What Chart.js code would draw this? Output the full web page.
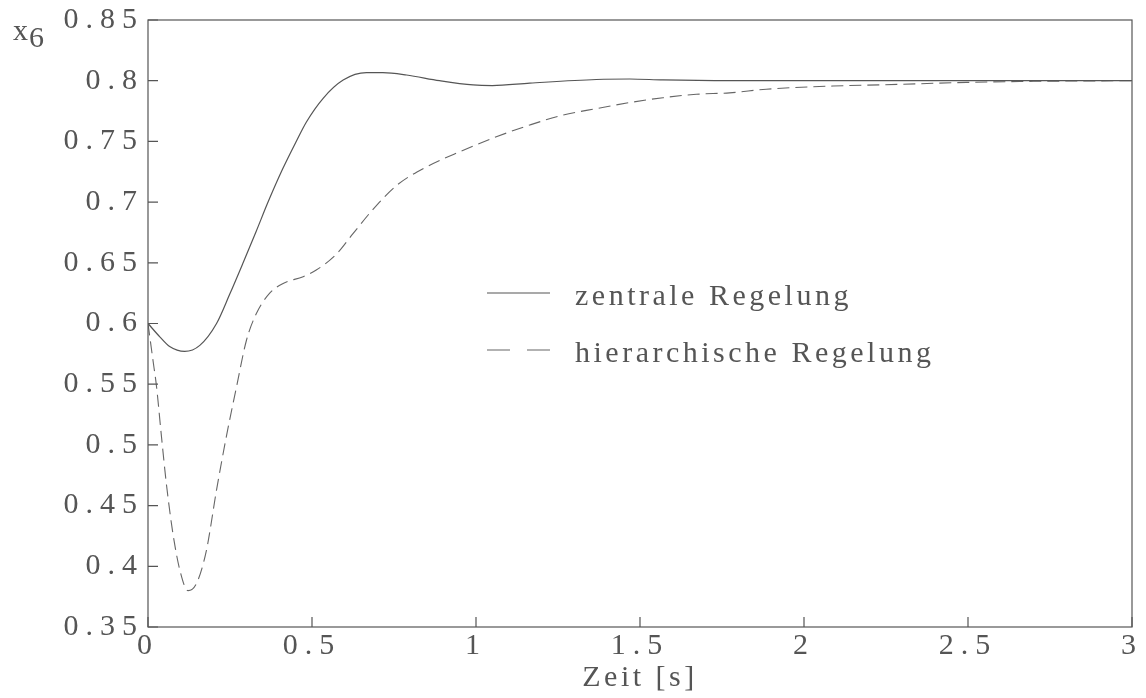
<!DOCTYPE html>
<html lang="de">
<head>
    <meta charset="UTF-8">
    <title>x6 - zentrale / hierarchische Regelung</title>
    <script src="https://cdn.jsdelivr.net/npm/chart.js"></script>
    <style>
        body { margin: 0; background: #fff; }
        canvas { display: block; }
    </style>
</head>
<body>
    <canvas id="chart" width="1146" height="698"></canvas>

    <script>
        // Daten
        const zentraleZeit = [0, 0.036, 0.066, 0.112, 0.158, 0.209, 0.249, 0.290, 0.330, 0.366, 0.410, 0.452, 0.483, 0.534, 0.595, 0.666, 0.716, 0.788, 0.889, 0.991, 1.05, 1.164, 1.367, 1.469, 1.57, 1.775, 2.0, 2.5, 3.0];
        const zentraleWerte = [0.6, 0.589, 0.581, 0.577, 0.582, 0.600, 0.624, 0.650, 0.676, 0.700, 0.727, 0.750, 0.766, 0.7855, 0.8005, 0.8066, 0.8066, 0.8047, 0.800, 0.7965, 0.796, 0.798, 0.801, 0.8014, 0.8006, 0.800, 0.800, 0.800, 0.800];

        const hierarchZeit = [0, 0.015, 0.026, 0.041, 0.056, 0.076, 0.097, 0.122, 0.148, 0.178, 0.209, 0.239, 0.270, 0.300, 0.330, 0.371, 0.412, 0.473, 0.513, 0.574, 0.625, 0.686, 0.757, 0.849, 0.955, 1.064, 1.164, 1.265, 1.367, 1.469, 1.570, 1.672, 1.773, 1.885, 2.088, 2.292, 2.495, 2.70, 3.0];
        const hierarchWerte = [0.6, 0.570, 0.548, 0.507, 0.468, 0.427, 0.397, 0.380, 0.386, 0.413, 0.463, 0.507, 0.548, 0.586, 0.608, 0.625, 0.633, 0.6386, 0.644, 0.657, 0.674, 0.694, 0.7135, 0.729, 0.742, 0.754, 0.7635, 0.7717, 0.777, 0.782, 0.786, 0.7888, 0.790, 0.793, 0.7956, 0.797, 0.7986, 0.7995, 0.800];

        const serienNamen = ['zentrale Regelung', 'hierarchische Regelung'];

        const xTicks = [0, 0.5, 1, 1.5, 2, 2.5, 3];
        const xTickLabels = ['0', '0.5', '1', '1.5', '2', '2.5', '3'];
        const yTicks = [0.35, 0.4, 0.45, 0.5, 0.55, 0.6, 0.65, 0.7, 0.75, 0.8, 0.85];
        const yTickLabels = ['0.35', '0.4', '0.45', '0.5', '0.55', '0.6', '0.65', '0.7', '0.75', '0.8', '0.85'];

        const FONT = '"Liberation Serif", "DejaVu Serif", serif';
        const TEXT = '#555';

        function toPoints(xs, ys) {
            return xs.map((x, i) => ({ x: x, y: ys[i] }));
        }

        // weite Laufweite wie im Original (Hershey-Schrift)
        const spacing = {
            id: 'spacing',
            beforeDraw(chart) {
                chart.ctx.letterSpacing = '7px';
                const xs = chart.scales.x;
                if (!xs._titlePatched) {
                    const orig = xs.drawTitle;
                    xs.drawTitle = function () {
                        const c = this.ctx;
                        const old = c.letterSpacing;
                        c.letterSpacing = '3.5px';
                        orig.apply(this, arguments);
                        c.letterSpacing = old;
                    };
                    xs._titlePatched = true;
                }
            }
        };

        // Rahmen, Ticks nach innen, Legende und y-Beschriftung
        const extras = {
            id: 'extras',
            afterDraw(chart) {
                const ctx = chart.ctx;
                const a = chart.chartArea;
                const xs = chart.scales.x, ys = chart.scales.y;
                ctx.save();
                ctx.strokeStyle = '#555';
                ctx.lineWidth = 1.2;
                ctx.strokeRect(a.left, a.top, a.right - a.left, a.bottom - a.top);

                ctx.beginPath();
                xs.ticks.forEach(t => {
                    const px = xs.getPixelForValue(t.value);
                    ctx.moveTo(px, a.bottom);
                    ctx.lineTo(px, a.bottom - 10);
                });
                ys.ticks.forEach(t => {
                    const py = ys.getPixelForValue(t.value);
                    ctx.moveTo(a.left, py);
                    ctx.lineTo(a.left + 10, py);
                });
                ctx.stroke();

                // Legende
                ctx.font = '30px ' + FONT;
                ctx.letterSpacing = '3.5px';
                ctx.fillStyle = TEXT;
                ctx.textBaseline = 'alphabetic';
                const rows = [293, 350];
                chart.data.datasets.forEach((ds, i) => {
                    const y = rows[i];
                    ctx.strokeStyle = ds.borderColor;
                    ctx.lineWidth = 1.2;
                    ctx.setLineDash(i === 0 ? [] : [23, 17]);
                    ctx.beginPath();
                    ctx.moveTo(487, y);
                    ctx.lineTo(550, y);
                    ctx.stroke();
                    ctx.setLineDash([]);
                    ctx.fillText(ds.label, 575, y + 12);
                });

                // x6
                ctx.letterSpacing = '0px';
                ctx.fillText('x', 13, 40);
                ctx.fillText('6', 29, 47);
                ctx.restore();
            }
        };

        const ctx = document.getElementById('chart').getContext('2d');
        new Chart(ctx, {
            type: 'line',
            data: {
                datasets: [{
                    label: serienNamen[0],
                    data: toPoints(zentraleZeit, zentraleWerte),
                    borderColor: '#555',
                    borderWidth: 1.2,
                    pointRadius: 0,
                    cubicInterpolationMode: 'monotone',
                    fill: false
                }, {
                    label: serienNamen[1],
                    data: toPoints(hierarchZeit, hierarchWerte),
                    borderColor: '#666',
                    borderWidth: 1.1,
                    borderDash: [12, 6],
                    pointRadius: 0,
                    cubicInterpolationMode: 'monotone',
                    fill: false
                }]
            },
            options: {
                responsive: false,
                animation: false,
                layout: { padding: { top: 20, right: 14, left: 0, bottom: 0 } },
                plugins: {
                    legend: { display: false },
                    tooltip: { enabled: false }
                },
                scales: {
                    x: {
                        type: 'linear',
                        min: 0,
                        max: 3,
                        afterBuildTicks: s => { s.ticks = xTicks.map(v => ({ value: v })); },
                        afterFit: s => { s.height = 71; s.paddingLeft = 0; s.paddingRight = 0; },
                        grid: { display: false },
                        border: { display: false },
                        ticks: {
                            padding: -7,
                            maxRotation: 0,
                            color: TEXT,
                            font: { family: FONT, size: 30 },
                            callback: (v, i) => xTickLabels[i]
                        },
                        title: {
                            display: true,
                            text: 'Zeit [s]',
                            color: TEXT,
                            font: { family: FONT, size: 30 },
                            padding: { top: 0, bottom: 2 }
                        }
                    },
                    y: {
                        min: 0.35,
                        max: 0.85,
                        afterBuildTicks: s => { s.ticks = yTicks.map(v => ({ value: v })); },
                        afterFit: s => { s.width = 148; s.paddingTop = 0; s.paddingBottom = 0; },
                        grid: { display: false },
                        border: { display: false },
                        ticks: {
                            padding: -4,
                            color: TEXT,
                            font: { family: FONT, size: 30 },
                            callback: (v, i) => yTickLabels[i]
                        }
                    }
                }
            },
            plugins: [spacing, extras]
        });
    </script>
</body>
</html>
